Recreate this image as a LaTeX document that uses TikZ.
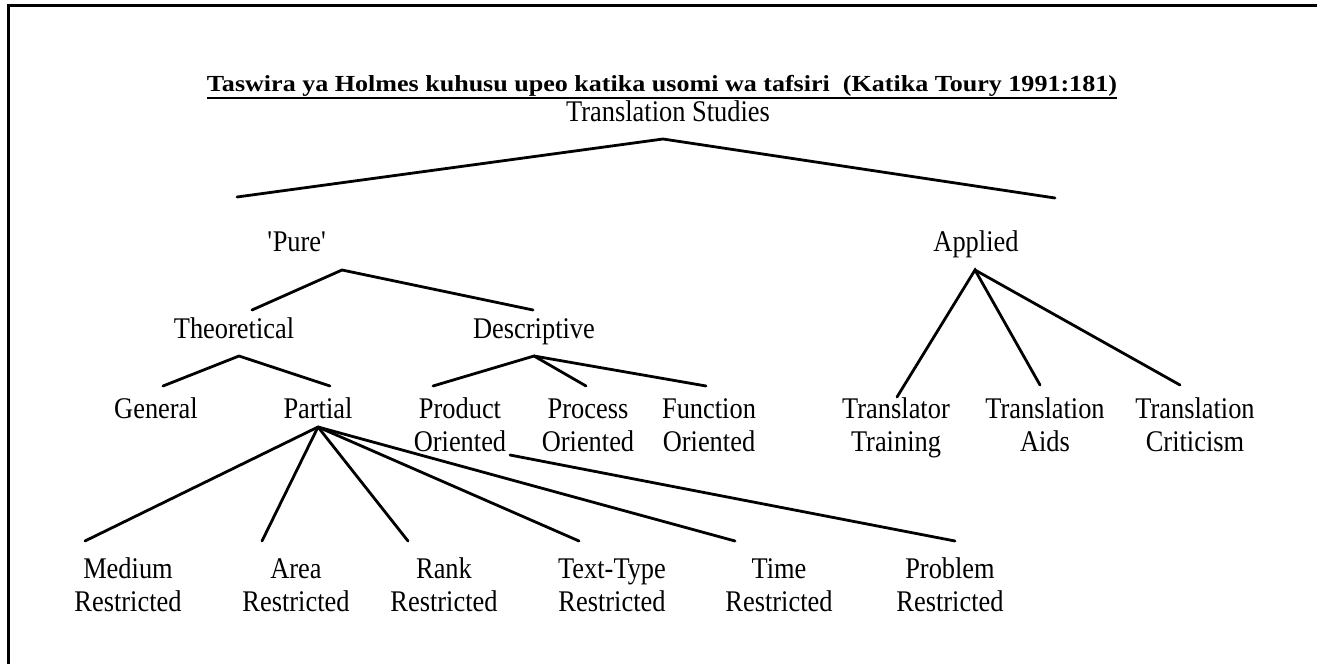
\documentclass[tikz,border=0pt]{standalone}
\usepackage{fontspec}
\usepackage{graphicx}
\setmainfont{Liberation Serif}
\newfontfamily\lblfont{Liberation Serif}[FakeStretch=0.88]
\begin{document}
\begin{tikzpicture}[x=1pt,y=-1pt,
  lbl/.style={inner sep=0pt,anchor=base,align=center,font=\lblfont\fontsize{30}{33}\selectfont},
  edge/.style={line width=2.8pt,line cap=round,line join=miter}]
\useasboundingbox (0,0) rectangle (1317,664);
\draw[line width=3pt] (8,664) -- (8,5) -- (1317,5);
% title
\node[inner sep=0pt,anchor=base] (title) at (662,91)
  {\resizebox{910pt}{\height}{\fontsize{23}{27}\selectfont\bfseries Taswira ya Holmes kuhusu upeo katika usomi wa tafsiri\ \ (Katika Toury 1991:181)}};
\draw[line width=2.4pt] ([yshift=-7pt]title.base west) -- ([yshift=-7pt]title.base east);
% labels (base = baseline of last line)
\node[lbl] (ts) at (668,121) {Translation Studies};
\node[lbl] (pure) at (297,251) {\textquotesingle Pure\textquotesingle};
\node[lbl] (applied) at (976,251) {Applied};
\node[lbl] (theo) at (234,338) {Theoretical};
\node[lbl] (desc) at (534,338) {Descriptive};
\node[lbl] (gen) at (156,418) {General};
\node[lbl] (part) at (318,418) {Partial};
\node[lbl] (prod) at (460,451) {Product\\Oriented};
\node[lbl] (proc) at (588,451) {Process\\Oriented};
\node[lbl] (func) at (709,451) {Function\\Oriented};
\node[lbl] (trtr) at (896,451) {Translator\\Training};
\node[lbl] (aids) at (1045,451) {Translation\\Aids};
\node[lbl] (crit) at (1195,451) {Translation\\Criticism};
\node[lbl] (med) at (128,611) {Medium\\Restricted};
\node[lbl] (area) at (296,611) {Area\\Restricted};
\node[lbl] (rank) at (444,611) {Rank\\Restricted};
\node[lbl] (ttype) at (612,611) {Text-Type\\Restricted};
\node[lbl] (time) at (779,611) {Time\\Restricted};
\node[lbl] (prob) at (950,611) {Problem\\Restricted};
% connector points
\coordinate (tsA) at (663,139);
\coordinate (pureT) at (237,197);
\coordinate (appT) at (1055,198);
\coordinate (pureA) at (342,270);
\coordinate (theoT) at (252,310);
\coordinate (descT) at (533,310);
\coordinate (theoA) at (239,356);
\coordinate (genT) at (163,386);
\coordinate (partT) at (330,386);
\coordinate (descA) at (534,356);
\coordinate (prodT) at (433,386);
\coordinate (procT) at (586,386);
\coordinate (funcT) at (706,386);
\coordinate (appA) at (975,270);
\coordinate (trtrT) at (897,397);
\coordinate (aidsT) at (1040,385);
\coordinate (critT) at (1180,385);
\coordinate (partA) at (318,427);
\coordinate (medT) at (85,541);
\coordinate (areaT) at (262,541);
\coordinate (rankT) at (408,541);
\coordinate (ttypeT) at (579,541);
\coordinate (timeT) at (735,541);
\coordinate (probS) at (510,455);
\coordinate (probT) at (955,541);
% connectors
\draw[edge] (pureT) -- (tsA) -- (appT);
\draw[edge] (theoT) -- (pureA) -- (descT);
\draw[edge] (genT) -- (theoA) -- (partT);
\draw[edge] (prodT) -- (descA) -- (procT);
\draw[edge] (descA) -- (funcT);
\draw[edge] (trtrT) -- (appA) -- (aidsT);
\draw[edge] (appA) -- (critT);
\draw[edge] (partA) -- (medT);
\draw[edge] (partA) -- (areaT);
\draw[edge] (partA) -- (rankT);
\draw[edge] (partA) -- (ttypeT);
\draw[edge] (partA) -- (timeT);
\draw[edge] (probS) -- (probT);
\end{tikzpicture}
\end{document}
